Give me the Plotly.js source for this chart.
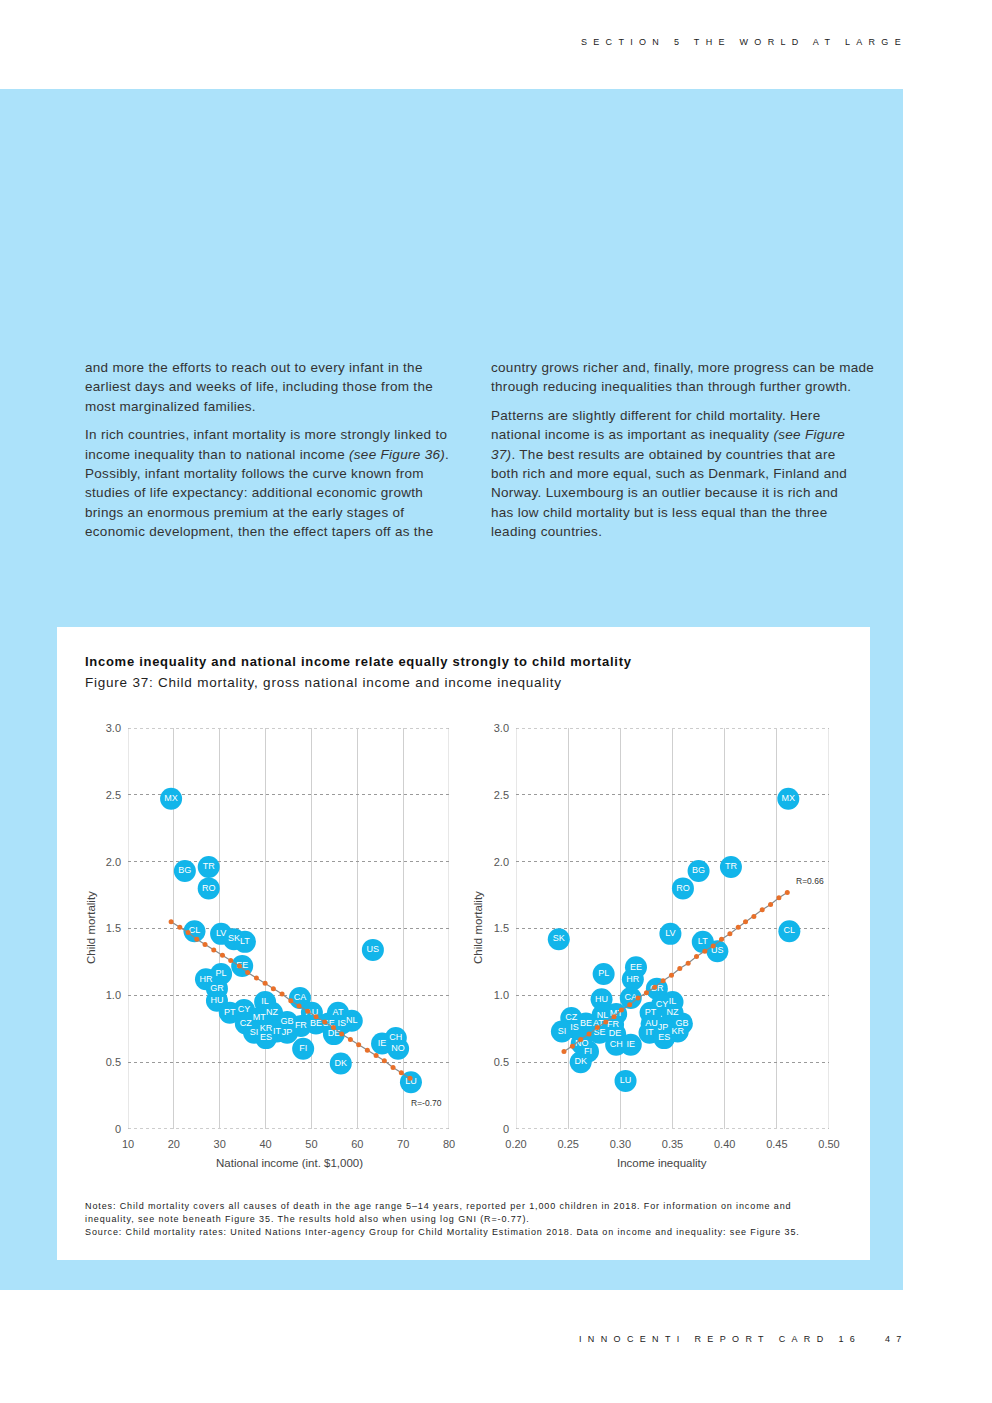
<!DOCTYPE html>
<html>
<head>
<meta charset="utf-8">
<script src="https://cdn.plot.ly/plotly-3.0.1.min.js"></script>
<style>
  html, body { margin:0; padding:0; background:#ffffff; }
  body { width:992px; height:1403px; position:relative; overflow:hidden; font-family:"Liberation Sans", Arial, sans-serif; }
  .abs { position:absolute; }
  #blue { left:0; top:89px; width:903px; height:1201px; background:#ace2fa; }
  #panel { left:57px; top:627px; width:813px; height:633px; background:#ffffff; }
  .col { font-size:13.5px; line-height:19.4px; color:#333; white-space:nowrap; letter-spacing:0.3px; }
  .col p { margin:0 0 9px 0; }
  #hdr { left:581px; top:37px; font-size:9px; letter-spacing:6.3px; color:#222; white-space:nowrap; }
  #ftr { left:579px; top:1334px; font-size:9px; letter-spacing:6.35px; color:#222; white-space:nowrap; }
  #pg { left:885px; top:1334px; font-size:9px; letter-spacing:6.3px; color:#222; white-space:nowrap; }
  #ctitle { left:85px; top:654px; font-size:13px; font-weight:bold; color:#111; white-space:nowrap; letter-spacing:0.72px; }
  #csub { left:85px; top:675px; font-size:13.5px; color:#222; white-space:nowrap; letter-spacing:0.77px; }
  #notes { left:85px; top:1200px; font-size:9px; line-height:13px; color:#222; white-space:nowrap; letter-spacing:0.88px; }
  #notes span { display:block; }
  #plot { left:0; top:0; width:992px; height:1403px; }
</style>
</head>
<body>
<div id="blue" class="abs"></div>
<div id="panel" class="abs"></div>
<div id="hdr" class="abs">SECTION 5 THE WORLD AT LARGE</div>

<div class="abs col" style="left:85px; top:358px;">
<p>and more the efforts to reach out to every infant in the<br>earliest days and weeks of life, including those from the<br>most marginalized families.</p>
<p>In rich countries, infant mortality is more strongly linked to<br>income inequality than to national income <i>(see Figure 36)</i>.<br>Possibly, infant mortality follows the curve known from<br>studies of life expectancy: additional economic growth<br>brings an enormous premium at the early stages of<br>economic development, then the effect tapers off as the</p>
</div>
<div class="abs col" style="left:491px; top:358px;">
<p>country grows richer and, finally, more progress can be made<br>through reducing inequalities than through further growth.</p>
<p>Patterns are slightly different for child mortality. Here<br>national income is as important as inequality <i>(see Figure<br>37)</i>. The best results are obtained by countries that are<br>both rich and more equal, such as Denmark, Finland and<br>Norway. Luxembourg is an outlier because it is rich and<br>has low child mortality but is less equal than the three<br>leading countries.</p>
</div>

<div id="ctitle" class="abs">Income inequality and national income relate equally strongly to child mortality</div>
<div id="csub" class="abs">Figure 37: Child mortality, gross national income and income inequality</div>

<div id="notes" class="abs"><span>Notes: Child mortality covers all causes of death in the age range 5–14 years, reported per 1,000 children in 2018. For information on income and</span><span>inequality, see note beneath Figure 35. The results hold also when using log GNI (R=-0.77).</span><span>Source: Child mortality rates: United Nations Inter-agency Group for Child Mortality Estimation 2018. Data on income and inequality: see Figure 35.</span></div>

<div id="ftr" class="abs">INNOCENTI REPORT CARD 16</div>
<div id="pg" class="abs">47</div>

<div id="plot" class="abs"></div>

<script>
// ---------- data ----------
const countries = ["MX","BG","TR","RO","CL","LV","SK","LT","US","EE","HR","PL","GR","HU","CA","IL","CY","PT","NZ","MT","AU","GB","AT","NL","IS","BE","SE","DE","FR","CZ","KR","SI","IT","JP","ES","FI","IE","CH","NO","DK","LU"];

const nationalIncome = [19.4,22.4,27.6,27.6,24.5,30.3,33.1,35.5,63.4,34.9,27.0,30.3,29.4,29.4,47.5,39.9,35.3,32.2,41.4,38.6,50.1,44.7,55.8,58.8,56.6,51.0,53.8,54.9,47.7,35.7,40.1,37.5,42.5,44.7,40.1,48.2,65.4,68.4,68.9,56.4,71.7];
const mortalityLeft = [2.47,1.93,1.96,1.80,1.48,1.46,1.42,1.40,1.34,1.22,1.12,1.16,1.05,0.96,0.98,0.95,0.89,0.87,0.87,0.83,0.87,0.80,0.87,0.81,0.79,0.79,0.79,0.71,0.77,0.79,0.75,0.72,0.73,0.72,0.68,0.60,0.64,0.68,0.60,0.49,0.35];

const incomeInequality = [0.461,0.375,0.406,0.360,0.462,0.348,0.241,0.379,0.393,0.315,0.312,0.284,0.335,0.282,0.310,0.350,0.340,0.329,0.350,0.296,0.330,0.359,0.279,0.283,0.256,0.267,0.280,0.295,0.293,0.253,0.355,0.244,0.328,0.341,0.342,0.269,0.310,0.296,0.263,0.262,0.305];
const mortalityRight = [2.47,1.93,1.96,1.80,1.48,1.46,1.42,1.40,1.33,1.21,1.12,1.16,1.05,0.97,0.98,0.95,0.93,0.87,0.87,0.86,0.79,0.79,0.79,0.85,0.76,0.79,0.72,0.71,0.78,0.83,0.73,0.73,0.72,0.76,0.68,0.58,0.63,0.63,0.64,0.50,0.36];

// fitted line markers
const trendLeftX = [19.4,21.3,23.1,25.0,26.8,28.7,30.6,32.4,34.3,36.1,38.0,39.9,41.7,43.6,45.5,47.3,49.2,51.0,52.9,54.8,56.6,58.5,60.3,62.2,64.1,65.9,67.8,69.6,71.5];
const trendLeftY = [1.55,1.51,1.47,1.42,1.38,1.34,1.30,1.26,1.22,1.17,1.13,1.09,1.05,1.01,0.96,0.92,0.88,0.84,0.80,0.76,0.71,0.67,0.63,0.59,0.55,0.51,0.46,0.42,0.38];
const trendRightX = [0.246,0.254,0.262,0.270,0.278,0.286,0.294,0.301,0.309,0.317,0.325,0.333,0.341,0.349,0.357,0.365,0.373,0.381,0.389,0.397,0.405,0.413,0.420,0.428,0.436,0.444,0.452,0.460];
const trendRightY = [0.58,0.62,0.67,0.71,0.76,0.80,0.84,0.89,0.93,0.98,1.02,1.06,1.11,1.15,1.20,1.24,1.29,1.33,1.37,1.42,1.46,1.51,1.55,1.59,1.64,1.68,1.73,1.77];

const yTickVals = [0,0.5,1,1.5,2,2.5,3];
const yTickText = ["0","0.5","1.0","1.5","2.0","2.5","3.0"];
const xLeftTickVals = [10,20,30,40,50,60,70,80];
const xLeftTickText = ["10","20","30","40","50","60","70","80"];
const xRightTickVals = [0.20,0.25,0.30,0.35,0.40,0.45,0.50];
const xRightTickText = ["0.20","0.25","0.30","0.35","0.40","0.45","0.50"];

const rLeft = "R=-0.70";
const rRight = "R=0.66";

// ---------- chart ----------
const W = 992, H = 1403;
const px = v => v / W;
const py = v => 1 - v / H;

const bubble = "#12b5ea";
const orange = "#e8702a";
const vGrid = "#cfcfcf";
const hGrid = "#9a9a9a";
const fnt = "Liberation Sans, Arial, sans-serif";

function bubbles(x, y, xa, ya) {
  return {
    type: "scatter", mode: "markers+text", x: x, y: y, text: countries,
    xaxis: xa, yaxis: ya, textposition: "middle center",
    marker: { size: 22, color: bubble, line: { width: 0 } },
    textfont: { family: fnt, size: 9, color: "#ffffff" },
    hoverinfo: "none", cliponaxis: false
  };
}
function trend(x, y, xa, ya) {
  return {
    type: "scatter", mode: "lines+markers", x: x, y: y, xaxis: xa, yaxis: ya,
    line: { color: "#8a8a8a", width: 1.2 },
    marker: { size: 5, color: orange, symbol: "circle" },
    hoverinfo: "none", cliponaxis: false
  };
}

const data = [
  bubbles(nationalIncome, mortalityLeft, "x", "y"),
  trend(trendLeftX, trendLeftY, "x", "y"),
  bubbles(incomeInequality, mortalityRight, "x2", "y2"),
  trend(trendRightX, trendRightY, "x2", "y2")
];

const yDomain = [py(1129), py(728)];
const tickFont = { family: fnt, size: 11, color: "#555" };

function xAxis(domain, range, vals, text, anchor) {
  return {
    domain: domain, range: range, anchor: anchor,
    tickvals: vals, ticktext: text, tickfont: tickFont,
    showgrid: true, gridcolor: vGrid, gridwidth: 1,
    zeroline: false, showline: false, ticks: "", ticklabelstandoff: 7, fixedrange: true
  };
}
function yAxis(anchor) {
  return {
    domain: yDomain, range: [0, 3], anchor: anchor,
    tickvals: yTickVals, ticktext: yTickText, tickfont: tickFont,
    showgrid: true, gridcolor: hGrid, gridwidth: 1, griddash: "dot",
    zeroline: false, showline: false, ticks: "", ticklabelstandoff: 6, fixedrange: true
  };
}

// edge grid lines (range ends) drawn as shapes so they are not culled
function edgeShapes(xa, ya, xr, yr) {
  const xd = xa + " domain", yd = ya + " domain";
  return [
    { type: "line", layer: "below", xref: xa, yref: yd, x0: xr[0], x1: xr[0], y0: 0, y1: 1, line: { color: vGrid, width: 1 } },
    { type: "line", layer: "below", xref: xa, yref: yd, x0: xr[1], x1: xr[1], y0: 0, y1: 1, line: { color: vGrid, width: 1 } },
    { type: "line", layer: "below", xref: xd, yref: ya, x0: 0, x1: 1, y0: yr[0], y1: yr[0], line: { color: hGrid, width: 1, dash: "dot" } },
    { type: "line", layer: "below", xref: xd, yref: ya, x0: 0, x1: 1, y0: yr[1], y1: yr[1], line: { color: hGrid, width: 1, dash: "dot" } }
  ];
}

const layout = {
  width: W, height: H,
  margin: { l: 0, r: 0, t: 0, b: 0 },
  paper_bgcolor: "rgba(0,0,0,0)", plot_bgcolor: "#ffffff",
  showlegend: false,
  xaxis: xAxis([px(128), px(449)], [10, 80], xLeftTickVals, xLeftTickText, "y"),
  yaxis: yAxis("x"),
  xaxis2: xAxis([px(516), px(829)], [0.2, 0.5], xRightTickVals, xRightTickText, "y2"),
  yaxis2: yAxis("x2"),
  shapes: edgeShapes("x", "y", [10, 80], [0, 3]).concat(edgeShapes("x2", "y2", [0.2, 0.5], [0, 3])),
  annotations: [
    { xref: "paper", yref: "paper", x: px(91), y: py(928), text: "Child mortality", textangle: -90,
      showarrow: false, font: { family: fnt, size: 11.5, color: "#444" }, xanchor: "center", yanchor: "middle" },
    { xref: "paper", yref: "paper", x: px(478), y: py(928), text: "Child mortality", textangle: -90,
      showarrow: false, font: { family: fnt, size: 11.5, color: "#444" }, xanchor: "center", yanchor: "middle" },
    { xref: "paper", yref: "paper", x: px(289), y: py(1163), text: "National income (int. $1,000)",
      showarrow: false, font: { family: fnt, size: 11.5, color: "#444" }, xanchor: "center", yanchor: "middle" },
    { xref: "paper", yref: "paper", x: px(662), y: py(1163), text: "Income inequality",
      showarrow: false, font: { family: fnt, size: 11.5, color: "#444" }, xanchor: "center", yanchor: "middle" },
    { xref: "paper", yref: "paper", x: px(444), y: py(1103), text: rLeft,
      showarrow: false, font: { family: fnt, size: 8.5, color: "#333" }, xanchor: "right", yanchor: "middle" },
    { xref: "paper", yref: "paper", x: px(794), y: py(881), text: rRight,
      showarrow: false, font: { family: fnt, size: 8.5, color: "#333" }, xanchor: "left", yanchor: "middle" }
  ]
};

Plotly.newPlot("plot", data, layout, { staticPlot: true, displayModeBar: false });
</script>
</body>
</html>
